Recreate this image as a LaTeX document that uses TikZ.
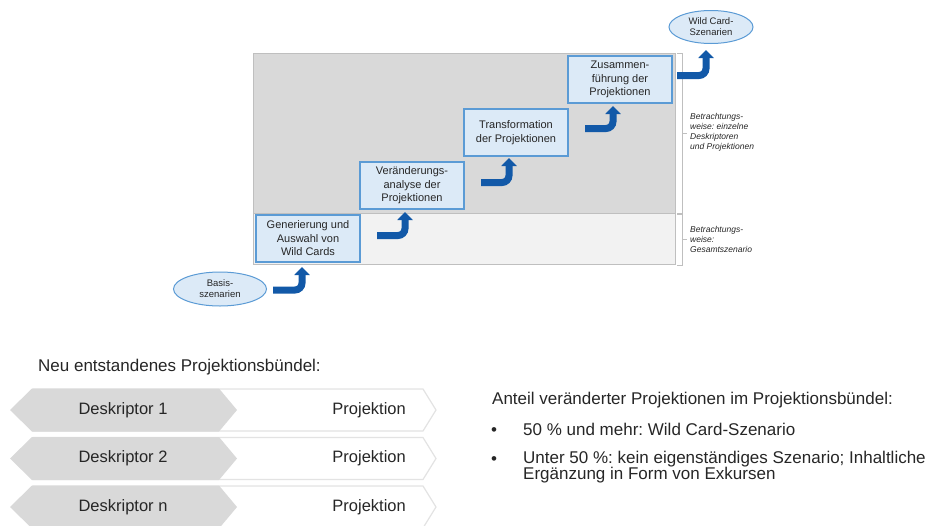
\documentclass[tikz,border=0pt]{standalone}
\usepackage{fontspec}
\setmainfont{Liberation Sans}
\usepackage{tikz}
\usetikzlibrary{arrows.meta, positioning, shapes.geometric}
\definecolor{panelDark}{HTML}{D9D9D9}
\definecolor{panelLight}{HTML}{F2F2F2}
\definecolor{panelLine}{HTML}{BFBFBF}
\definecolor{stepFill}{HTML}{DCEAF7}
\definecolor{stepLine}{HTML}{5B9BD5}
\definecolor{flowBlue}{HTML}{1259A8}
\definecolor{rowLine}{HTML}{E3E3E3}
\definecolor{mainText}{gray}{0.15}
\frenchspacing

\begin{document}
\begin{tikzpicture}[x=1pt, y=-1pt,
    stepbox/.style={draw=stepLine, line width=1.3pt, fill=stepFill, minimum width=104pt, minimum height=47pt, inner sep=0pt, outer sep=0pt, align=center, text=mainText, font=\fontsize{11}{13.5}\selectfont},
    scenario/.style={ellipse, draw=stepLine, line width=1pt, fill=stepFill, inner sep=0pt, align=center, text=mainText, font=\fontsize{9.5}{11}\selectfont},
    flow/.style={line width=7pt, flowBlue, rounded corners=7pt, -{Triangle[width=15pt, length=8pt]}},
    note/.style={anchor=west, align=left, inner sep=0pt, text=mainText, font=\fontsize{8.5}{10}\selectfont\itshape},
    bigtext/.style={anchor=west, align=left, inner sep=0pt, text=mainText, font=\fontsize{17}{16}\selectfont},
    rowtext/.style={inner sep=0pt, text=mainText, font=\fontsize{16.5}{18}\selectfont}]
    \useasboundingbox (0,0) rectangle (926,525);

    % Coordinates
    \coordinate (TL) at (253,53);
    \coordinate (ML) at (253,213);
    \coordinate (MR) at (675,213);
    \coordinate (BR) at (675,264);

    % Panels
    \fill[panelDark] (TL) rectangle (MR);
    \fill[panelLight] (ML) rectangle (BR);
    \draw[panelLine] (TL) rectangle (BR);
    \draw[panelLine] (ML) -- (MR);

    % Brackets
    \draw[panelLine, line width=0.8pt] (677,53) -- (682,53) -- (682,213) -- (677,213);
    \draw[panelLine, line width=0.8pt] (677,214) -- (682,214) -- (682,265) -- (677,265);
    \draw[panelLine, line width=0.8pt] (682,133) -- (687,133);
    \draw[panelLine, line width=0.8pt] (682,239) -- (687,239);
    \node[note] (viewA) at (690,132) {Betrachtungs-\\weise: einzelne\\Deskriptoren\\und Projektionen};
    \node[note] (viewB) at (690,239) {Betrachtungs-\\weise:\\Gesamtszenario};

    % Steps
    \node[stepbox] (gen) at (308,238.5) {Generierung und\\Auswahl von\\Wild Cards};
    \node[stepbox, above right=6pt and 0pt of gen] (ver) {Veränderungs-\\analyse der\\Projektionen};
    \node[stepbox, above right=6pt and 0pt of ver] (tra) {Transformation\\der Projektionen};
    \node[stepbox, above right=6pt and 0pt of tra] (zus) {Zusammen-\\führung der\\Projektionen};

    % Scenarios
    \node[scenario, minimum width=93pt, minimum height=34pt] (basis) at (220,289) {Basis-\\szenarien};
    \node[scenario, minimum width=84pt, minimum height=33pt] (wild) at (711,27) {Wild Card-\\Szenarien};

    % Arrows
    \draw[flow] ([xshift=6pt, yshift=-1pt]basis.east) -| ([xshift=-6pt, yshift=-5pt]gen.south);
    \draw[flow] ([xshift=17pt, yshift=3pt]gen.east) -| ([xshift=-7pt, yshift=-3pt]ver.south);
    \draw[flow] ([xshift=17pt, yshift=3pt]ver.east) -| ([xshift=-7pt, yshift=-2pt]tra.south);
    \draw[flow] ([xshift=17pt, yshift=4pt]tra.east) -| ([xshift=-7pt, yshift=-3pt]zus.south);
    \draw[flow] ([xshift=5pt, yshift=4pt]zus.east) -| ([xshift=-5pt, yshift=-6pt]wild.south);

    % Bundle
    \node[bigtext] (bundle) at (38,367) {Neu entstandenes Projektionsbündel:};
    \foreach \y/\k in {410/1, 458.5/2, 507/n} {
        \draw[rowLine, line width=1.2pt, fill=white] (12,\y) -- (33,\y-21) -- (423,\y-21) -- (436,\y) -- (423,\y+21) -- (33,\y+21) -- cycle;
        \fill[panelDark] (10,\y) -- (32,\y-21.5) -- (219,\y-21.5) -- (237,\y) -- (219,\y+21.5) -- (32,\y+21.5) -- cycle;
        \node[rowtext] (desc\k) at (123,\y) {Deskriptor \k};
        \node[rowtext, anchor=east] (proj\k) at (406,\y) {Projektion};
    }

    % Share
    \node[bigtext] (share) at (492,400) {Anteil veränderter Projektionen im Projektionsbündel:};
    \node[bigtext] (itemA) at (523,429) {50 \% und mehr: Wild Card-Szenario};
    \node[bigtext, anchor=north west] (itemB) at (523,451) {Unter 50 \%: kein eigenständiges Szenario; Inhaltliche\\Ergänzung in Form von Exkursen};
    \node[bigtext, anchor=base west] (dotA) at (491,435) {•};
    \node[bigtext, anchor=base west] (dotB) at (491,464) {•};
\end{tikzpicture}
\end{document}
